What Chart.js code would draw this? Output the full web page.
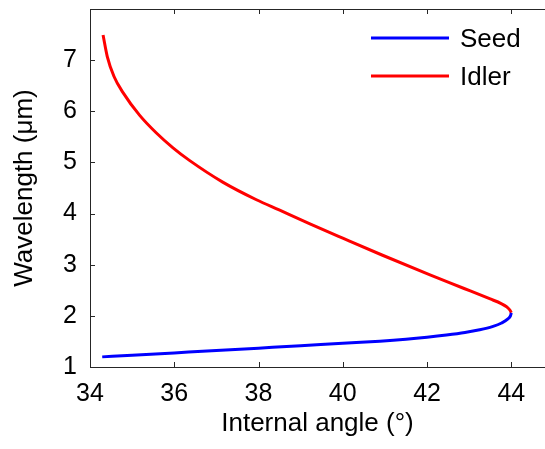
<!DOCTYPE html>
<html>
<head>
<meta charset="utf-8">
<script src="https://cdn.jsdelivr.net/npm/chart.js@4.4.1/dist/chart.umd.min.js"></script>
<style>
  html, body { margin: 0; padding: 0; background: #fff; overflow: hidden; }
  #wrap { width: 545px; height: 449px; }
</style>
</head>
<body>
<div id="wrap"><canvas id="waveChart" width="545" height="449"></canvas></div>
<script>
// values
var seedAngle = [34.29, 35.0, 36.0, 37.0, 38.0, 39.0, 40.0, 40.88, 41.5, 42.0, 42.46, 42.9, 43.25, 43.55, 43.77, 43.92, 43.98, 44.0];
var seedWavelength = [1.198, 1.23, 1.276, 1.322, 1.369, 1.416, 1.464, 1.505, 1.543, 1.582, 1.625, 1.675, 1.728, 1.79, 1.86, 1.94, 2.0, 2.06];

var idlerAngle = [44.0, 43.97, 43.9, 43.76, 43.5, 42.88, 42.07, 40.93, 40.0, 39.22, 38.49, 37.95, 37.15, 36.36, 35.97, 35.57, 35.18, 34.78, 34.57, 34.41, 34.31];
var idlerWavelength = [2.06, 2.11, 2.17, 2.24, 2.33, 2.535, 2.8, 3.19, 3.52, 3.8, 4.07, 4.27, 4.615, 5.04, 5.285, 5.58, 5.92, 6.37, 6.68, 7.07, 7.49];

var seriesNames = ['Seed', 'Idler'];
var seriesColors = ['#0000ff', '#ff0000'];

var xTicks = [34, 36, 38, 40, 42, 44];
var yTicks = [1, 2, 3, 4, 5, 6, 7];

var axisColor = '#262626';
var fontFamily = '"Liberation Sans", Arial, sans-serif';

function toPoints(xs, ys) {
    return xs.map(function (x, i) { return { x: x, y: ys[i] }; });
}

// inward tick marks and a legend inside the plot
var ticksAndLegend = {
    id: 'ticksAndLegend',
    afterDraw: function (chart) {
        var ctx = chart.ctx, area = chart.chartArea;
        var xs = chart.scales.x, ys = chart.scales.y;
        ctx.save();
        ctx.strokeStyle = axisColor;
        ctx.lineWidth = 1;
        ctx.beginPath();
        xTicks.forEach(function (v) {
            var px = Math.round(xs.getPixelForValue(v)) + 0.5;
            ctx.moveTo(px, area.bottom);
            ctx.lineTo(px, area.bottom - 5);
            ctx.moveTo(px, area.top);
            ctx.lineTo(px, area.top + 5);
        });
        yTicks.forEach(function (v) {
            var py = Math.round(ys.getPixelForValue(v)) + 0.5;
            ctx.moveTo(area.left, py);
            ctx.lineTo(area.left + 5, py);
        });
        ctx.stroke();

        chart.data.datasets.forEach(function (ds, i) {
            var y = 38 + i * 38;
            ctx.strokeStyle = ds.borderColor;
            ctx.lineWidth = 3;
            ctx.beginPath();
            ctx.moveTo(371, y);
            ctx.lineTo(449, y);
            ctx.stroke();
            ctx.fillStyle = '#000';
            ctx.font = '26px ' + fontFamily;
            ctx.textBaseline = 'middle';
            ctx.textAlign = 'left';
            ctx.fillText(ds.label, 460, y + 2);
        });
        ctx.restore();
    }
};

var ctxWave = document.getElementById('waveChart').getContext('2d');
var waveChart = new Chart(ctxWave, {
    type: 'scatter',
    data: {
        datasets: [{
            label: seriesNames[0],
            data: toPoints(seedAngle, seedWavelength),
            borderColor: seriesColors[0],
            backgroundColor: seriesColors[0],
            borderWidth: 3,
            showLine: true,
            pointRadius: 0,
            cubicInterpolationMode: 'monotone'
        }, {
            label: seriesNames[1],
            data: toPoints(idlerAngle, idlerWavelength),
            borderColor: seriesColors[1],
            backgroundColor: seriesColors[1],
            borderWidth: 3,
            showLine: true,
            pointRadius: 0,
            cubicInterpolationMode: 'monotone'
        }]
    },
    options: {
        responsive: false,
        animation: false,
        layout: { padding: 0 },
        plugins: {
            legend: { display: false },
            tooltip: { enabled: false }
        },
        scales: {
            x: {
                type: 'linear',
                min: 34,
                max: 44.8,
                afterBuildTicks: function (s) { s.ticks = xTicks.map(function (v) { return { value: v }; }); },
                afterFit: function (s) { s.height = 82; s.paddingLeft = 0; s.paddingRight = 0; },
                grid: { display: false, drawTicks: false },
                border: { display: true, color: axisColor, width: 1 },
                ticks: { color: '#000', padding: 12, maxRotation: 0, font: { family: fontFamily, size: 25 } },
                title: {
                    display: true,
                    text: 'Internal angle (°)',
                    color: '#000',
                    padding: { top: 0, bottom: 10 },
                    font: { family: fontFamily, size: 26 }
                }
            },
            xTop: {
                type: 'linear',
                position: 'top',
                min: 34,
                max: 44.8,
                afterFit: function (s) { s.height = 9; s.paddingLeft = 0; s.paddingRight = 0; },
                grid: { display: false, drawTicks: false },
                border: { display: true, color: axisColor, width: 1 },
                ticks: { display: false }
            },
            y: {
                type: 'linear',
                min: 1,
                max: 8,
                afterBuildTicks: function (s) { s.ticks = yTicks.map(function (v) { return { value: v }; }); },
                afterFit: function (s) { s.width = 90; s.paddingTop = 0; s.paddingBottom = 0; },
                grid: { display: false, drawTicks: false },
                border: { display: true, color: axisColor, width: 1 },
                ticks: { color: '#000', padding: 13, font: { family: fontFamily, size: 25 } },
                title: {
                    display: true,
                    text: 'Wavelength (μm)',
                    color: '#000',
                    padding: { top: 9, bottom: 0 },
                    font: { family: fontFamily, size: 26 }
                }
            }
        }
    },
    plugins: [ticksAndLegend]
});
</script>
</body>
</html>
